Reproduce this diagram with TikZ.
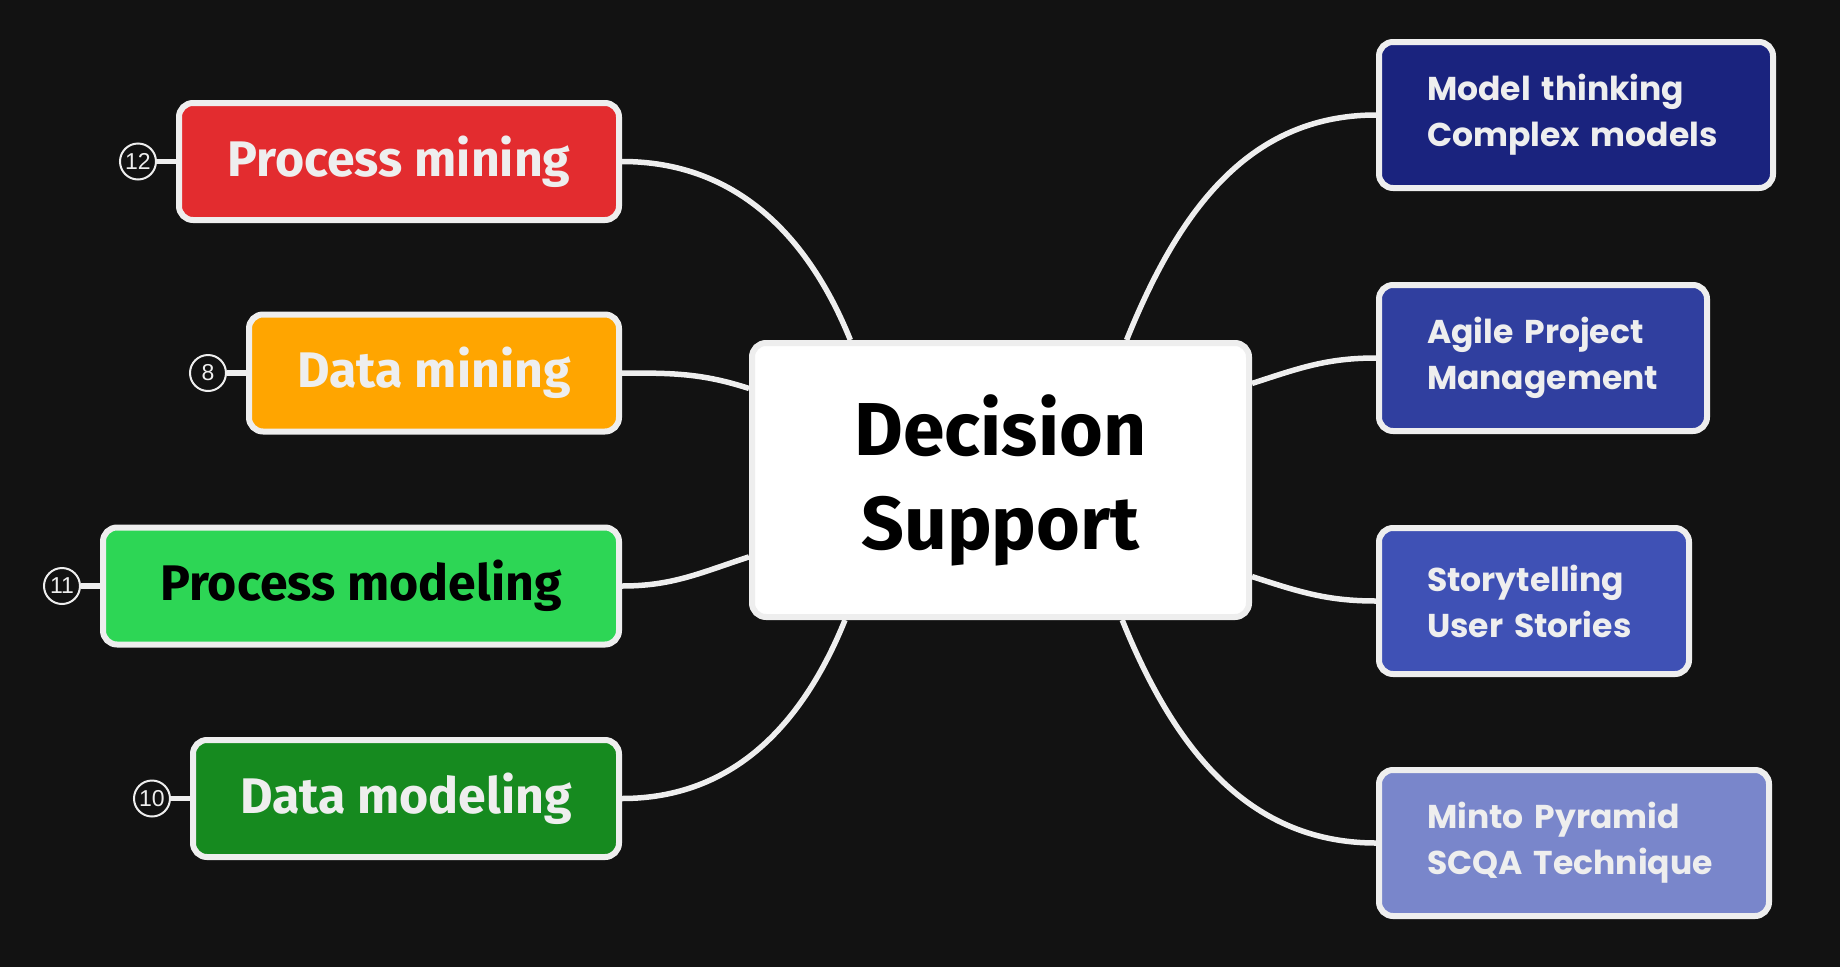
\documentclass[tikz,border=0pt]{standalone}
\usepackage{fontspec}
\setmainfont{Fira Sans}
\newfontfamily\rightfont{Poppins}
\newfontfamily\numfont{Liberation Sans}
\usepackage{tikz}
\usetikzlibrary{positioning}
\definecolor{bgdark}{HTML}{121212}
\definecolor{rim}{HTML}{EEEEEE}
\definecolor{pmred}{HTML}{E32C2F}
\definecolor{dmorange}{HTML}{FFA500}
\definecolor{pmodgreen}{HTML}{2DD655}
\definecolor{dmodgreen}{HTML}{168A1F}
\definecolor{indigoA}{HTML}{1A237E}
\definecolor{indigoB}{HTML}{303F9F}
\definecolor{indigoC}{HTML}{3F51B5}
\definecolor{indigoD}{HTML}{7986CB}

\begin{document}
\begin{tikzpicture}[x=1pt, y=1pt, node distance=19pt,
  box/.style={draw=rim, line width=6pt, rounded corners=14pt, inner sep=0pt},
  leftbox/.style={box, minimum height=117pt, text=rim, font=\fontsize{50}{56}\selectfont\bfseries},
  rightbox/.style={box, minimum height=146pt, anchor=west, align=left, inner xsep=48pt, text=rim, font=\rightfont\fontsize{33}{46}\selectfont\bfseries},
  hub/.style={box, fill=white, minimum width=497pt, minimum height=274pt, align=center, font=\fontsize{75}{94}\selectfont\bfseries},
  num/.style={circle, draw=rim, line width=2pt, minimum size=36pt, inner sep=0pt, text=rim, font=\numfont\fontsize{23}{23}\selectfont},
  link/.style={draw=rim, line width=5.5pt},
  stub/.style={draw=rim, line width=5.5pt}]
\fill[bgdark] (0,0) rectangle (1840,-967);
\useasboundingbox (0,0) rectangle (1840,-967);

\node[hub] (hub) at (1000.5,-480) {Decision\\Support};

\node[leftbox, fill=pmred, minimum width=440pt] (pm) at (399,-161.5) {Process mining};
\node[leftbox, fill=dmorange, minimum width=370pt] (dm) at (434,-373) {Data mining};
\node[leftbox, fill=pmodgreen, minimum width=516pt, text=black] (pmod) at (361,-586) {Process modeling};
\node[leftbox, fill=dmodgreen, minimum width=426pt] (dmod) at (406,-798.5) {Data modeling};

\node[num, left=of pm] (n12) {12};
\node[num, left=of dm] (n8) {8};
\node[num, left=of pmod] (n11) {11};
\node[num, left=of dmod] (n10) {10};

\node[rightbox, fill=indigoA, text width=298pt] (mt) at (1376,-115) {Model thinking\\Complex models};
\node[rightbox, fill=indigoB, text width=232pt] (ag) at (1376,-358) {Agile Project\\Management};
\node[rightbox, fill=indigoC, text width=214pt] (st) at (1376,-601) {Storytelling\\User Stories};
\node[rightbox, fill=indigoD, text width=294pt] (mi) at (1376,-843) {Minto Pyramid\\SCQA Technique};

\draw[stub] (n12) -- (pm);
\draw[stub] (n8) -- (dm);
\draw[stub] (n11) -- (pmod);
\draw[stub] (n10) -- (dmod);

\draw[link] (pm.east) to[out=0, in=112] (hub.137.6);
\draw[link] (dm.east) to[out=0, in=162] (hub.160.9);
\draw[link] (pmod.east) to[out=0, in=198] (hub.197.8);
\draw[link] (dmod.east) to[out=0, in=248] (hub.222.4);
\draw[link] (hub.48.6) to[out=68, in=180] (mt.west);
\draw[link] (hub.21.9) to[out=18, in=180] (ag.west);
\draw[link] (hub.339.3) to[out=-18, in=180] (st.west);
\draw[link] (hub.311.4) to[out=-68, in=180] (mi.west);
\end{tikzpicture}
\end{document}
